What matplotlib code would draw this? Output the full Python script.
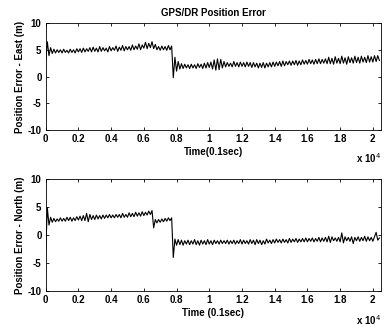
import numpy as np
import matplotlib
matplotlib.use("Agg")
import matplotlib.pyplot as plt

plt.rcParams['font.family'] = ['Liberation Sans', 'DejaVu Sans']

# sample spacing in the data lists: one value every 100 steps of 0.1 sec
step = 100

east = [
    3.0, 6.5, 3.9, 5.4, 4.3, 5.1, 4.4, 5.0, 4.5, 5.0,
    4.4, 5.1, 4.5, 4.9, 4.4, 5.1, 4.5, 5.0, 4.4, 5.2,
    4.6, 5.2, 4.5, 5.3, 4.6, 5.2, 4.7, 5.4, 4.6, 5.5,
    4.7, 5.3, 4.6, 5.6, 4.7, 5.4, 4.8, 5.3, 4.6, 5.6,
    4.8, 5.4, 4.9, 5.7, 4.7, 5.5, 4.9, 5.8, 4.8, 5.6,
    5.0, 5.6, 4.9, 5.9, 5.0, 5.7, 5.1, 6.1, 5.0, 5.9,
    5.3, 6.4, 5.2, 6.2, 5.4, 6.5, 5.2, 6.0, 5.0, 5.6,
    4.9, 5.7, 5.0, 5.6, 4.9, 5.8, 5.0, 5.7, -0.2, 3.6,
    1.0, 2.8, 1.4, 2.4, 1.5, 2.3, 1.6, 2.2, 1.5, 2.3,
    1.6, 2.2, 1.5, 2.4, 1.7, 2.3, 1.5, 2.5, 1.6, 2.6,
    1.7, 2.7, 1.4, 3.1, 1.2, 3.3, 1.3, 3.2, 1.6, 2.8,
    1.8, 2.6, 1.9, 2.5, 1.8, 2.8, 1.9, 2.6, 1.8, 2.7,
    1.9, 2.6, 1.8, 2.7, 1.9, 2.6, 1.7, 2.6, 1.8, 2.5,
    1.6, 2.5, 1.7, 2.6, 1.6, 2.5, 1.8, 2.6, 1.8, 2.7,
    1.9, 2.7, 2.0, 2.8, 1.9, 2.9, 2.0, 2.8, 2.2, 2.9,
    2.1, 2.9, 2.2, 3.0, 2.1, 2.9, 2.2, 3.1, 2.3, 3.0,
    2.3, 3.2, 2.4, 3.1, 2.3, 3.2, 2.4, 3.3, 2.4, 3.2,
    2.5, 3.3, 2.4, 3.6, 2.4, 3.4, 2.3, 3.7, 2.5, 3.4,
    2.4, 3.8, 2.5, 3.5, 2.3, 3.7, 2.6, 3.5, 2.5, 3.8,
    2.6, 3.6, 2.5, 3.8, 2.7, 3.6, 2.6, 3.9, 2.7, 3.7,
    2.7, 3.9, 2.8, 3.9, 3.0,
]

north = [
    -2.8, 4.9, 1.8, 3.2, 2.3, 3.0, 2.4, 2.9, 2.5, 3.1,
    2.5, 3.0, 2.5, 3.2, 2.6, 3.2, 2.5, 3.1, 2.6, 3.3,
    2.7, 3.4, 2.6, 3.5, 2.6, 3.9, 2.4, 3.7, 2.8, 3.5,
    2.8, 3.6, 2.9, 3.5, 2.9, 3.6, 3.0, 3.6, 3.1, 3.7,
    3.1, 3.6, 3.1, 3.7, 3.2, 3.7, 3.1, 3.9, 3.2, 3.7,
    3.2, 4.0, 3.3, 3.9, 3.3, 4.1, 3.4, 4.0, 3.4, 4.2,
    3.5, 4.1, 3.6, 4.3, 3.7, 4.4, 1.3, 2.8, 2.2, 2.8,
    2.3, 2.9, 2.4, 3.0, 2.5, 3.1, 2.6, 3.1, -4.0, -0.7,
    -1.8, -0.8, -1.7, -0.9, -1.8, -1.0, -1.6, -0.9, -1.7, -1.0,
    -1.6, -0.8, -1.7, -1.0, -1.8, -0.9, -1.6, -1.0, -1.7, -0.8,
    -1.6, -1.0, -1.7, -0.9, -1.5, -1.0, -1.6, -0.9, -1.5, -1.0,
    -1.5, -0.9, -1.6, -1.0, -1.5, -0.9, -1.6, -1.0, -1.5, -0.8,
    -1.6, -0.9, -1.5, -1.0, -1.6, -0.8, -1.5, -0.9, -1.7, -0.8,
    -1.5, -0.9, -1.7, -1.0, -1.6, -0.7, -1.4, -0.9, -1.5, -0.8,
    -1.4, -0.7, -1.3, -0.8, -1.4, -0.7, -1.3, -0.8, -1.4, -0.6,
    -1.3, -0.7, -1.2, -0.6, -1.3, -0.7, -1.2, -0.6, -1.2, -0.5,
    -1.2, -0.6, -1.1, -0.5, -1.2, -0.6, -1.1, -0.4, -1.2, -0.5,
    -1.1, -0.4, -1.2, -0.2, -1.3, -0.3, -1.0, -0.5, -1.1, -0.4,
    -1.2, 0.4, -1.4, -0.3, -1.0, -0.4, -1.1, -0.3, -1.5, -0.4,
    -1.0, -0.3, -1.1, -0.4, -1.0, -0.2, -1.1, -0.3, -1.0, -0.4,
    -1.1, -0.3, 0.5, -0.9, -0.5,
]

xticks = [0, 2000, 4000, 6000, 8000, 10000, 12000, 14000, 16000, 18000, 20000]
xticklabels = ['0', '0.2', '0.4', '0.6', '0.8', '1', '1.2', '1.4', '1.6', '1.8', '2']
yticks = [-10, -5, 0, 5, 10]

t_east = np.arange(len(east)) * step
t_north = np.arange(len(north)) * step

fig = plt.figure(figsize=(3.85, 3.26), dpi=100)
ax1 = fig.add_axes([0.1187, 0.6012, 0.871, 0.3282])
ax2 = fig.add_axes([0.1187, 0.1074, 0.871, 0.3426])

fs = 7
fw = 'bold'
for ax, t, y, ylab, xlab in [
    (ax1, t_east, east, 'Position Error - East (m)', 'Time(0.1sec)'),
    (ax2, t_north, north, 'Position Error - North (m)', 'Time (0.1sec)'),
]:
    ax.plot(t, y, color='black', lw=0.8)
    ax.set_xlim(0, 20500)
    ax.set_ylim(-10, 10)
    ax.set_xticks(xticks)
    ax.set_xticklabels(xticklabels, fontweight=fw)
    ax.set_yticks(yticks)
    ax.set_yticklabels([str(v) for v in yticks], fontweight=fw)
    ax.tick_params(direction='in', top=True, right=True, length=2.5,
                   width=0.6, labelsize=fs, pad=3)
    for s in ax.spines.values():
        s.set_linewidth(0.6)
    ax.set_ylabel(ylab, fontsize=fs, fontweight=fw, labelpad=2)
    ax.set_xlabel(xlab, fontsize=fs, fontweight=fw, labelpad=2)
    ax.text(1.0, -0.2, r'x 10$^4$', transform=ax.transAxes,
            ha='right', va='top', fontsize=fs, fontweight=fw)

ax1.set_title('GPS/DR Position Error', fontsize=fs, fontweight=fw, pad=5)

fig.savefig('out.png', dpi=100)
